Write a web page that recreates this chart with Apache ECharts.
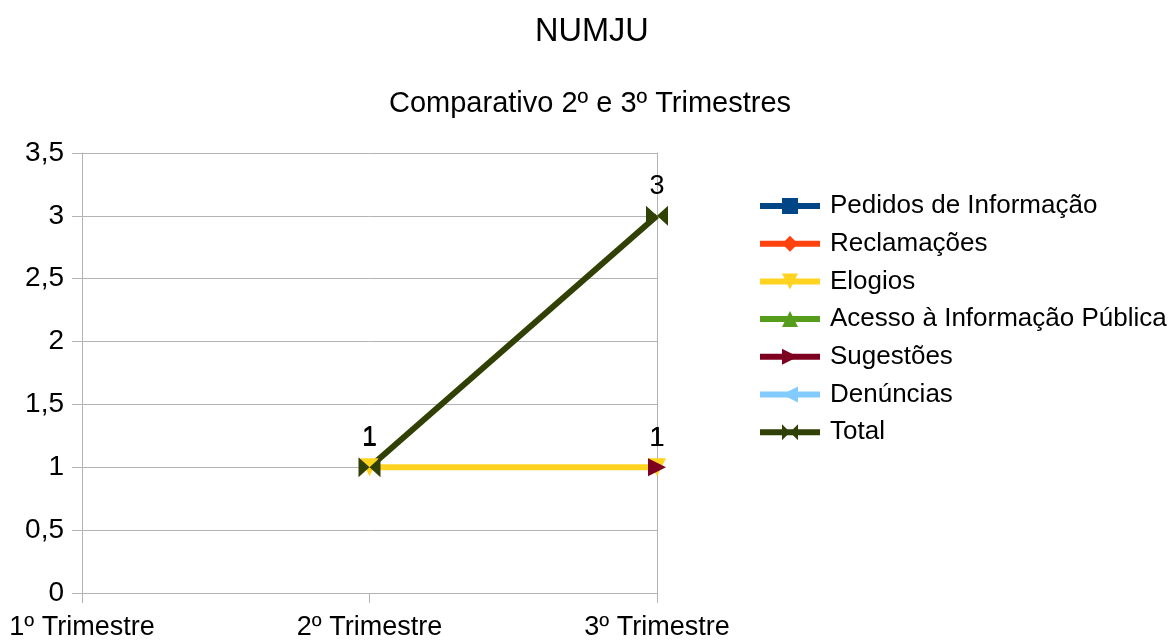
<!DOCTYPE html>
<html><head><meta charset="utf-8">
<script src="https://cdn.jsdelivr.net/npm/echarts@6/dist/echarts.min.js"></script>
<style>html,body{margin:0;padding:0;background:#fff}#c{width:1176px;height:641px}</style>
</head><body><div id="c"></div>
<script>
const categories = ['1º Trimestre', '2º Trimestre', '3º Trimestre'];
const pedidos = [null, null, null];
const reclamacoes = [null, null, null];
const elogios = [null, 1, 1];
const acesso = [null, null, null];
const sugestoes = [null, null, 1];
const denuncias = [null, null, null];
const total = [null, 1, 3];
const yTicks = [0, 0.5, 1, 1.5, 2, 2.5, 3, 3.5];

const FONT = '"Liberation Sans", Arial, sans-serif';
const bowtie = 'path://M0,0 L10,5 L0,10 Z M20,0 L10,5 L20,10 Z';
function mk(name, data, color, symbol, rotate, size) {
  return {
    name, type: 'line', data, color,
    symbol, symbolSize: size, symbolRotate: rotate,
    showAllSymbol: true, connectNulls: false,
    lineStyle: { width: 6, color },
    itemStyle: { color },
    label: { show: true, position: 'top', distance: 6, color: '#000', fontSize: 27, fontFamily: FONT },
    emphasis: { disabled: true },
    animation: false
  };
}
const chart = echarts.init(document.getElementById('c'));
chart.setOption({
  backgroundColor: '#fff',
  animation: false,
  title: [
    { text: 'NUMJU', left: 530, top: 11, textStyle: { fontFamily: FONT, fontSize: 32.5, fontWeight: 'normal', color: '#000' } },
    { text: 'Comparativo 2º e 3º Trimestres', left: 384, top: 84, textStyle: { fontFamily: FONT, fontSize: 29, fontWeight: 'normal', color: '#000' } }
  ],
  legend: {
    orient: 'vertical', left: 757, top: 193, padding: 0, itemGap: 11.7, itemWidth: 60, itemHeight: 20,
    lineStyle: { width: 6 },
    textStyle: { fontFamily: FONT, fontSize: 26, lineHeight: 26, color: '#000', padding: [0, 0, 0, 5] },
    data: ['Pedidos de Informação', 'Reclamações', 'Elogios', 'Acesso à Informação Pública', 'Sugestões', 'Denúncias', 'Total']
  },
  grid: { left: 82, right: 519, top: 153, bottom: 46, containLabel: false },
  xAxis: {
    type: 'category', data: categories, boundaryGap: false,
    axisLine: { lineStyle: { color: '#b3b3b3', width: 1 } },
    axisTick: { show: true, length: 10, lineStyle: { color: '#b3b3b3' } },
    axisLabel: { margin: 21, color: '#000', fontFamily: FONT, fontSize: 27, interval: 0 },
    splitLine: { show: false }
  },
  yAxis: [{
    type: 'value', min: 0, max: 3.5, interval: 0.5,
    axisLine: { show: true, lineStyle: { color: '#b3b3b3' } },
    axisTick: { show: true, length: 10, lineStyle: { color: '#b3b3b3' } },
    axisLabel: { margin: 18, color: '#000', fontFamily: FONT, fontSize: 28,
      formatter: v => String(v).replace('.', ',') },
    splitLine: { show: true, lineStyle: { color: '#b3b3b3', width: 1 } }
  }, {
    type: 'value', min: 0, max: 3.5, interval: 0.5, position: 'right',
    axisLine: { show: true, lineStyle: { color: '#b3b3b3' } },
    axisTick: { show: false }, axisLabel: { show: false }, splitLine: { show: false }
  }],
  series: [
    mk('Pedidos de Informação', pedidos, '#004586', 'rect', 0, 14),
    mk('Reclamações', reclamacoes, '#ff420e', 'diamond', 0, 16),
    mk('Elogios', elogios, '#ffd320', 'triangle', 180, 18),
    mk('Acesso à Informação Pública', acesso, '#579d1c', 'triangle', 0, 18),
    mk('Sugestões', sugestoes, '#7e0021', 'triangle', -90, 18),
    mk('Denúncias', denuncias, '#83caff', 'triangle', 90, 18),
    mk('Total', total, '#314004', bowtie, 0, [22, 20])
  ]
});
</script></body></html>
